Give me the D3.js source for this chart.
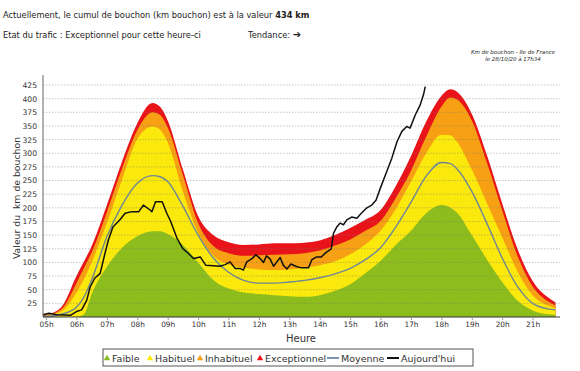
<!DOCTYPE html>
<html>
<head>
<meta charset="utf-8">
<script src="https://cdn.jsdelivr.net/npm/d3@7"></script>
<style>
  body { margin: 0; background: #fff; }
  svg { display: block; font-family: "DejaVu Sans", Verdana, sans-serif; }
</style>
</head>
<body>
<div id="chart"></div>
<script>
const hours = [4.9, 5.0, 5.5, 6.0, 6.25, 6.5, 7.0, 7.5, 8.0, 8.5, 8.75, 9.0, 9.5, 10.0, 10.5, 11.0, 11.5, 12.0, 12.5, 13.0,
               13.5, 14.0, 14.5, 15.0, 15.5, 16.0, 16.5, 17.0, 17.5, 18.0, 18.3, 18.5, 19.0, 19.5, 20.0, 20.5, 21.0, 21.5, 21.75];

const exceptionnel = [3, 4, 18, 75, 102, 130, 205, 285, 355, 392, 385, 360, 270, 185, 150, 137, 132, 133, 135, 135,
                      136, 140, 150, 163, 178, 196, 240, 295, 358, 405, 417, 413, 372, 296, 208, 125, 66, 36, 27];
const inhabituel = [2, 3, 14, 62, 90, 118, 192, 272, 342, 375, 370, 347, 260, 172, 130, 117, 112, 113, 114, 115,
                    117, 122, 131, 142, 158, 176, 218, 268, 330, 385, 402, 399, 360, 282, 195, 112, 56, 29, 21];
const habituel = [1, 2, 10, 45, 70, 100, 172, 252, 326, 349, 343, 320, 230, 155, 112, 96, 90, 87, 86, 87,
                  90, 95, 102, 115, 133, 158, 198, 248, 300, 334, 333, 322, 270, 208, 146, 84, 40, 21, 16];
const faible = [0, 0, 0, 0, 5, 42, 92, 127, 148, 157, 157, 152, 132, 100, 68, 52, 45, 42, 40, 38,
                37, 40, 48, 60, 80, 103, 132, 158, 190, 205, 200, 192, 150, 105, 64, 30, 12, 5, 4];
const moyenne = [1, 1, 5, 18, 37, 68, 147, 205, 245, 259, 257, 248, 203, 150, 108, 82, 67, 62, 62, 64,
                 67, 72, 79, 89, 105, 127, 165, 210, 258, 283, 281, 272, 230, 171, 108, 56, 25, 15, 13];

const todayHours = [4.9, 5.1, 5.35, 5.8, 6.0, 6.17, 6.34, 6.45, 6.6, 6.78, 6.94, 7.05, 7.2, 7.43, 7.6, 7.82, 8.05, 8.2, 8.42, 8.48,
                    8.6, 8.82, 8.97, 9.1, 9.3, 9.5, 9.65, 9.85, 10.07, 10.25, 10.5, 10.72, 10.89, 11.05, 11.22, 11.38, 11.49, 11.6, 11.77, 11.9,
                    12.04, 12.15, 12.25, 12.37, 12.48, 12.59, 12.7, 12.8, 12.92, 13.05, 13.25, 13.41, 13.63, 13.74, 13.9, 14.05, 14.2, 14.38, 14.45, 14.56,
                    14.67, 14.78, 14.89, 15.05, 15.22, 15.35, 15.55, 15.71, 15.85, 16.0, 16.2, 16.37, 16.54, 16.7, 16.86, 16.97, 17.14, 17.3, 17.41, 17.47];
const aujourdhui = [4, 7, 4, 3, 10, 13, 31, 55, 71, 80, 117, 141, 165, 178, 190, 193, 193, 205, 196, 193,
                    211, 211, 190, 175, 145, 125, 118, 107, 110, 95, 94, 93, 96, 101, 89, 89, 86, 101, 107, 114,
                    107, 100, 112, 106, 93, 101, 109, 95, 88, 97, 92, 90, 90, 105, 110, 110, 118, 125, 153, 165,
                    172, 169, 178, 183, 181, 189, 200, 205, 214, 237, 266, 291, 321, 340, 349, 346, 370, 388, 407, 422];

const hourTicks = d3.range(5, 22);
const valueTicks = d3.range(25, 426, 25);

const legendItems = [
    { label: 'Faible', color: '#8dbd1d', type: 'mark' },
    { label: 'Habituel', color: '#fbe80c', type: 'mark' },
    { label: 'Inhabituel', color: '#f7a014', type: 'mark' },
    { label: 'Exceptionnel', color: '#e81419', type: 'mark' },
    { label: 'Moyenne', color: '#7d95b0', type: 'line' },
    { label: "Aujourd'hui", color: '#111', type: 'line' }
];

const width = 580, height = 371;
const plot = { left: 43, right: 560, top: 85, bottom: 317 };

const svg = d3.select('#chart').append('svg')
    .attr('width', width)
    .attr('height', height);

const x = d3.scaleLinear().domain([4.9, 21.9]).range([plot.left, plot.right]);
const y = d3.scaleLinear().domain([0, 425]).range([plot.bottom, plot.top]);

// header texts
const line1 = svg.append('text')
    .attr('x', 3).attr('y', 18)
    .attr('font-size', 8.3).attr('fill', '#222');
line1.append('tspan').text('Actuellement, le cumul de bouchon (km bouchon) est à la valeur ');
line1.append('tspan').attr('font-weight', 'bold').text('434 km');

svg.append('text')
    .attr('x', 3).attr('y', 38)
    .attr('font-size', 8.3).attr('fill', '#222')
    .text('Etat du trafic : Exceptionnel pour cette heure-ci');

const tendance = svg.append('text')
    .attr('x', 248).attr('y', 38)
    .attr('font-size', 8.3).attr('fill', '#222');
tendance.append('tspan').text('Tendance: ');
tendance.append('tspan').attr('font-size', 10).attr('font-weight', 'bold').text('➔');

svg.selectAll('.subtitle')
    .data(['Km de bouchon - Ile de France', 'le 28/10/20 à 17h34'])
    .join('text')
    .attr('class', 'subtitle')
    .attr('x', 513)
    .attr('y', (d, i) => 54 + i * 7)
    .attr('text-anchor', 'middle')
    .attr('font-size', 5.5)
    .attr('font-style', 'italic')
    .attr('fill', '#222')
    .text(d => d);

// bands
const bands = [
    { values: exceptionnel, color: legendItems[3].color },
    { values: inhabituel, color: legendItems[2].color },
    { values: habituel, color: legendItems[1].color },
    { values: faible, color: legendItems[0].color }
];

const area = d3.area()
    .x((d, i) => x(hours[i]))
    .y0(y(0))
    .y1(d => y(d))
    .curve(d3.curveMonotoneX);

svg.append('g')
    .selectAll('path')
    .data(bands)
    .join('path')
    .attr('d', d => area(d.values))
    .attr('fill', d => d.color);

// grid
svg.append('g')
    .selectAll('line')
    .data(valueTicks)
    .join('line')
    .attr('x1', plot.left).attr('x2', plot.right)
    .attr('y1', d => y(d)).attr('y2', d => y(d))
    .attr('stroke', '#777')
    .attr('stroke-opacity', 0.6)
    .attr('stroke-width', 0.7)
    .attr('stroke-dasharray', '1.5,1.5');

// lines
const line = (xs) => d3.line()
    .x((d, i) => x(xs[i]))
    .y(d => y(d));

svg.append('path')
    .attr('d', line(hours).curve(d3.curveMonotoneX)(moyenne))
    .attr('fill', 'none')
    .attr('stroke', '#6f8796')
    .attr('stroke-width', 1.4);

svg.append('path')
    .attr('d', line(todayHours)(aujourdhui))
    .attr('fill', 'none')
    .attr('stroke', '#111')
    .attr('stroke-width', 1.5)
    .attr('stroke-linejoin', 'round');

// axes
const xAxis = svg.append('g')
    .attr('transform', `translate(0, ${plot.bottom})`)
    .call(d3.axisBottom(x).tickValues(hourTicks).tickSize(3).tickPadding(2).tickFormat(d => d3.format('02d')(d) + 'h'));
xAxis.select('.domain').attr('d', `M${plot.left},0H${plot.right}`).attr('stroke', '#333');
xAxis.selectAll('.tick line').attr('stroke', '#999');
xAxis.selectAll('.tick text')
    .attr('font-family', '"DejaVu Sans", sans-serif')
    .attr('font-size', 7.4)
    .attr('fill', '#333');

const yAxis = svg.append('g')
    .attr('transform', `translate(${plot.left}, 0)`)
    .call(d3.axisLeft(y).tickValues(valueTicks).tickSize(0).tickPadding(6));
yAxis.select('.domain').attr('d', `M0,75V${plot.bottom}`).attr('stroke', '#666');
yAxis.selectAll('.tick text')
    .attr('font-family', '"DejaVu Sans", sans-serif')
    .attr('font-size', 7.6)
    .attr('fill', '#333');

svg.append('text')
    .attr('transform', 'translate(20, 198) rotate(-90)')
    .attr('text-anchor', 'middle')
    .attr('font-size', 9.3)
    .attr('fill', '#333')
    .style('white-space', 'pre')
    .text('Valeur du  km de bouchon');

svg.append('text')
    .attr('x', 301).attr('y', 342)
    .attr('text-anchor', 'middle')
    .attr('font-size', 10)
    .attr('fill', '#333')
    .text('Heure');

// legend
const legend = svg.append('g').attr('transform', 'translate(103, 349)');
legend.append('rect')
    .attr('width', 370).attr('height', 17)
    .attr('fill', '#fff')
    .attr('stroke', '#555');

const legendX = [4, 47, 97, 157, 227, 287];
const entries = legend.selectAll('.entry')
    .data(legendItems)
    .join('g')
    .attr('class', 'entry')
    .attr('transform', (d, i) => `translate(${legendX[i]}, 9)`);

entries.filter(d => d.type === 'mark')
    .append('path')
    .attr('transform', 'translate(0, 0.5)')
    .attr('d', d3.symbol(d3.symbolTriangle, 18))
    .attr('fill', d => d.color);

entries.filter(d => d.type === 'line')
    .append('line')
    .attr('x1', -3).attr('x2', 9)
    .attr('stroke', d => d.color)
    .attr('stroke-width', 2);

entries.append('text')
    .attr('x', d => d.type === 'mark' ? 5 : 11)
    .attr('y', 3.5)
    .attr('font-size', 9.5)
    .attr('fill', '#333')
    .text(d => d.label);
</script>
</body>
</html>
